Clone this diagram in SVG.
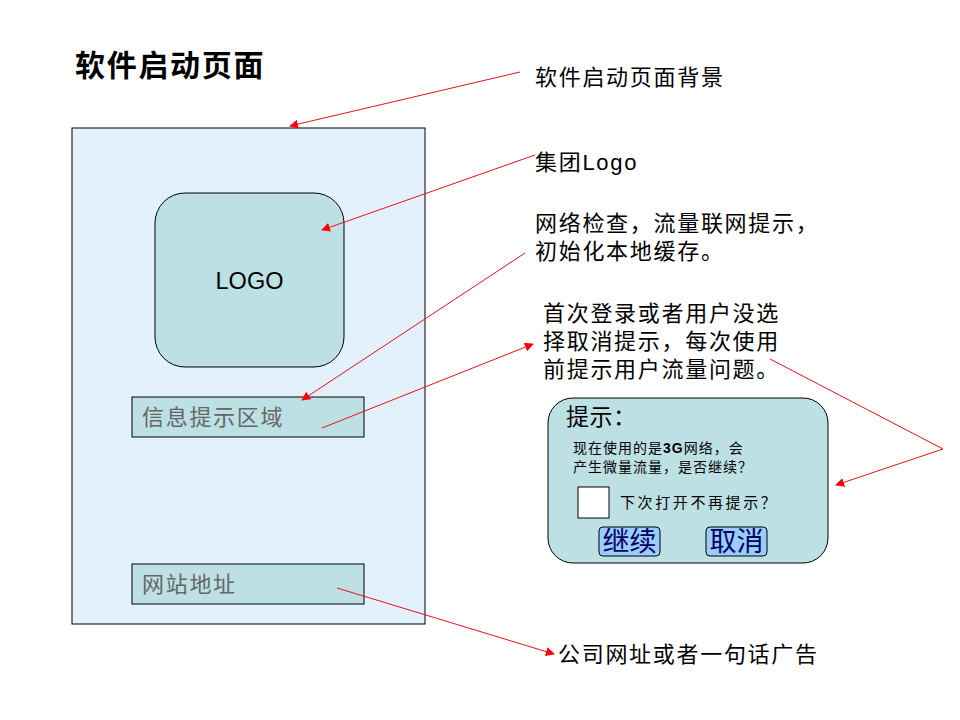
<svg xmlns="http://www.w3.org/2000/svg" width="960" height="720" viewBox="0 0 960 720">
<defs>
<style>
.t{font-family:"Liberation Sans","Noto Sans CJK SC",sans-serif;fill:#000}
.lbl{font-size:22px;letter-spacing:1.7px}
.box{fill:#BCE0E3;stroke:#000;stroke-width:1}
.gray{font-size:22px;letter-spacing:1.7px;fill:#666}
.c{fill:none;stroke:#E8101A;stroke-width:1}
.btn{fill:#99CCFF;stroke:#000;stroke-width:1}
.btxt{font-size:27px;fill:#000060}
</style>
<marker id="ah" viewBox="0 0 10 10" refX="9" refY="5" markerWidth="9" markerHeight="9" markerUnits="userSpaceOnUse" orient="auto">
<path d="M0,0 L10,5 L0,10 z" fill="#FF0000"/>
</marker>
</defs>
<rect width="960" height="720" fill="#fff"/>
<text class="t" x="75" y="76" font-size="30" font-weight="bold" letter-spacing="1.7">软件启动页面</text>
<g id="bg">
<rect x="72" y="128" width="353" height="496" fill="#E3F1FC" stroke="#000"/>
</g>
<g id="logo">
<rect x="155" y="193" width="189" height="174" rx="30" class="box"/>
<text class="t" x="249.5" y="289" font-size="23.5" text-anchor="middle">LOGO</text>
</g>
<g id="info">
<rect x="132" y="397" width="232" height="40" class="box"/>
<text class="t gray" x="142" y="425">信息提示区域</text>
</g>
<g id="site">
<rect x="132" y="564" width="232" height="40" class="box"/>
<text class="t gray" x="142" y="592">网站地址</text>
</g>
<g id="dialog">
<rect x="548" y="398" width="280" height="165" rx="25" class="box"/>
<text class="t" x="566" y="425" font-size="23" letter-spacing="0.5">提示：</text>
<text class="t" x="573" y="453" font-size="14" letter-spacing="1">现在使用的是<tspan font-weight="bold">3G</tspan>网络，会</text>
<text class="t" x="573" y="472" font-size="14" letter-spacing="1">产生微量流量，是否继续？</text>
<rect x="578" y="487" width="31" height="31" fill="#fff" stroke="#000"/>
<text class="t" x="620" y="508" font-size="15" letter-spacing="2.6">下次打开不再提示？</text>
<g id="btn-continue">
<rect x="599" y="527" width="61" height="29" rx="4" class="btn"/>
<text class="t btxt" x="629.5" y="551" text-anchor="middle">继续</text>
</g>
<g id="btn-cancel">
<rect x="706" y="527" width="61" height="29" rx="4" class="btn"/>
<text class="t btxt" x="736.5" y="551" text-anchor="middle">取消</text>
</g>
</g>
<g id="labels">
<text class="t lbl" x="535" y="85">软件启动页面背景</text>
<text class="t lbl" x="535" y="170">集团Logo</text>
<text class="t lbl" x="535" y="231">网络检查，流量联网提示，</text>
<text class="t lbl" x="535" y="259">初始化本地缓存。</text>
<text class="t lbl" x="543" y="321">首次登录或者用户没选</text>
<text class="t lbl" x="543" y="349">择取消提示，每次使用</text>
<text class="t lbl" x="543" y="377">前提示用户流量问题。</text>
<text class="t lbl" x="558" y="662">公司网址或者一句话广告</text>
</g>
<g id="connectors">
<line class="c" x1="520" y1="72" x2="290" y2="126" marker-end="url(#ah)"/>
<line class="c" x1="535" y1="155" x2="322" y2="230" marker-end="url(#ah)"/>
<line class="c" x1="525" y1="253" x2="302" y2="400" marker-end="url(#ah)"/>
<line class="c" x1="322" y1="428" x2="533" y2="344" marker-end="url(#ah)"/>
<polyline class="c" points="770,359 943,449 836,485" marker-end="url(#ah)"/>
<line class="c" x1="337" y1="588" x2="554" y2="654" marker-end="url(#ah)"/>
</g>
</svg>
